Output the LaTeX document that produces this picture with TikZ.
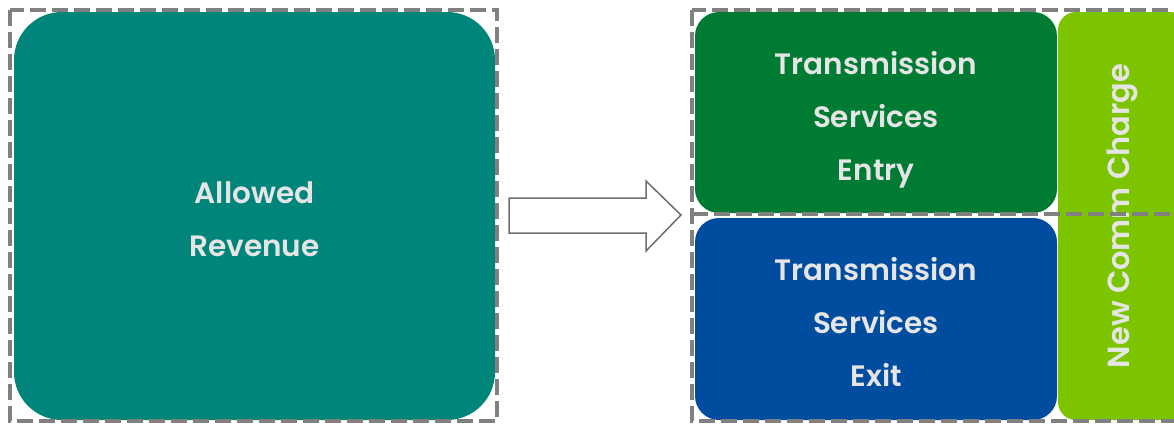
\documentclass[tikz,border=0pt]{standalone}
\usepackage{fontspec}
\setmainfont{Poppins}[BoldFont={Poppins SemiBold}]
\definecolor{revteal}{RGB}{0,133,122}
\definecolor{entrygreen}{RGB}{0,123,51}
\definecolor{exitblue}{RGB}{0,77,159}
\definecolor{commlime}{RGB}{124,196,0}
\definecolor{txtgray}{RGB}{229,229,229}
\definecolor{dashgray}{RGB}{128,128,128}
\definecolor{arrowgray}{RGB}{110,110,110}

\begin{document}
\begin{tikzpicture}[x=1pt,y=-1pt,
	blk/.style={rounded corners=24pt, inner sep=0pt},
	lbl/.style={text=txtgray, align=center, inner sep=0pt,
		font=\bfseries\fontsize{29.5}{53}\selectfont},
	dashbox/.style={draw=dashgray, line width=4pt, dash pattern=on 16pt off 6pt}]
    \useasboundingbox (0,0) rectangle (1174,423);
    \clip (0,0) rectangle (1174,423);
    \node[blk, fill=revteal, rounded corners=48pt, minimum width=481pt, minimum height=408pt]
    	(rev) at (254.5,216) {};
    \node[blk, fill=entrygreen, minimum width=362pt, minimum height=201pt]
    	(entry) at (876,112.5) {};
    \node[blk, fill=exitblue, minimum width=362pt, minimum height=202pt]
    	(exit) at (876,319) {};
    \node[blk, fill=commlime, rounded corners=18pt, minimum width=130pt, minimum height=408pt]
    	(comm) at (1123,216) {};
    \node[lbl] (revtxt) at ([yshift=-3pt]rev.center) {Allowed\\Revenue};
    \node[lbl] (entrytxt) at ([yshift=-7pt]entry.center) {Transmission\\Services\\Entry};
    \node[lbl] (exittxt) at ([yshift=-3pt]exit.center) {Transmission\\Services\\Exit};
    \node[lbl, rotate=90, font=\bfseries\fontsize{30.5}{53}\selectfont]
    	(commtxt) at ([xshift=-1pt]comm.center) {New Comm Charge};
    \draw[arrowgray, line width=1.5pt, fill=white, line join=miter]
    	(509,198) -- (646,198) -- (646,181) -- (681,215) -- (646,251) -- (646,233) -- (509,233) -- cycle;
    \draw[dashbox] (10,10) rectangle (497,421);
    \draw[dashbox] (692,10) rectangle (1190,421);
    \draw[dashbox] (692,214) -- (1190,214);
\end{tikzpicture}
\end{document}
